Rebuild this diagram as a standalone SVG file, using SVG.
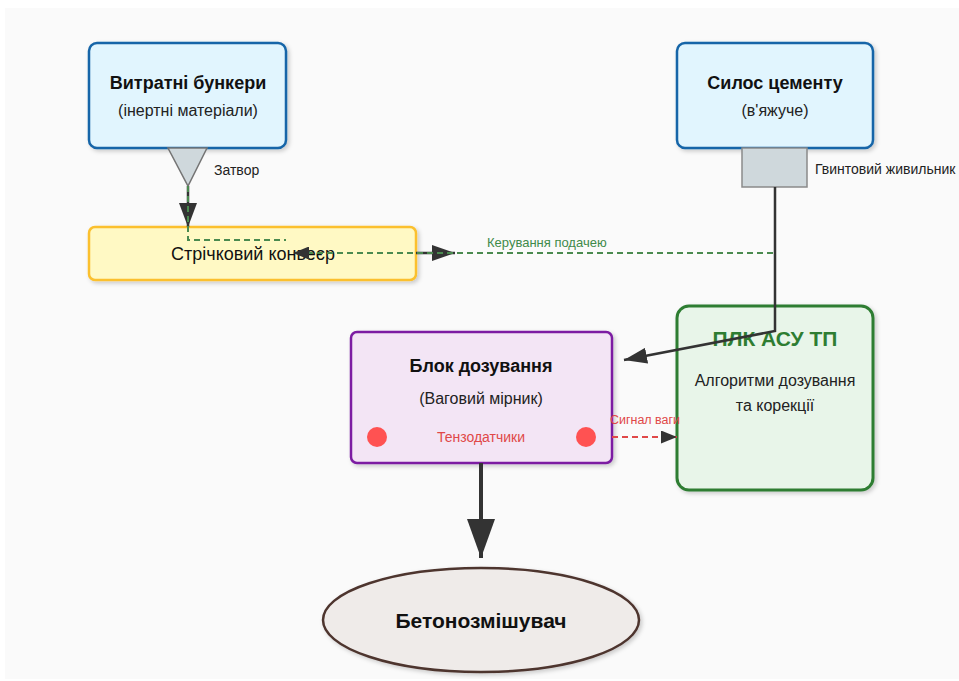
<svg xmlns="http://www.w3.org/2000/svg" width="959" height="681" viewBox="0 0 959 681">
<defs>
<style>
text{font-family:"Liberation Sans",Arial,sans-serif;fill:#111}
.t{font-size:18px;font-weight:bold;text-anchor:middle}
.s{font-size:16px;text-anchor:middle;fill:#222}
.lab{font-size:14px;fill:#222}
.box{stroke-width:2.5}
.dash{fill:none;stroke:#4a8a4f;stroke-width:2;stroke-dasharray:6,4}
.solid{fill:none;stroke:#333;stroke-width:2.5}
</style>
<filter id="sh" x="-10%" y="-10%" width="130%" height="130%">
<feDropShadow dx="2" dy="2" stdDeviation="2" flood-color="#000" flood-opacity="0.2"/>
</filter>
<marker id="ahG" viewBox="0 0 10 10" refX="10" refY="5" markerWidth="24" markerHeight="18" markerUnits="userSpaceOnUse" orient="auto" preserveAspectRatio="none">
<path d="M0,0 L10,5 L0,10 Z" fill="#333"/>
</marker>
<marker id="ahL" viewBox="0 0 10 10" refX="10" refY="5" markerWidth="23" markerHeight="16" markerUnits="userSpaceOnUse" orient="auto" preserveAspectRatio="none">
<path d="M0,0 L10,5 L0,10 Z" fill="#333"/>
</marker>
<marker id="ahM" viewBox="0 0 10 10" refX="10" refY="5" markerWidth="39" markerHeight="28" markerUnits="userSpaceOnUse" orient="auto" preserveAspectRatio="none">
<path d="M0,0 L10,5 L0,10 Z" fill="#333"/>
</marker>
<marker id="ahS" viewBox="0 0 10 10" refX="10" refY="5" markerWidth="16" markerHeight="13" markerUnits="userSpaceOnUse" orient="auto" preserveAspectRatio="none">
<path d="M0,0 L10,5 L0,10 Z" fill="#333"/>
</marker>
</defs>
<rect x="0" y="0" width="959" height="681" fill="#fff"/>
<rect x="5" y="8" width="954" height="671" fill="#fafafa"/>

<g id="bunkers">
<rect x="89" y="43" width="197" height="105" rx="8" fill="#e1f5fe" stroke="#1565a8" class="box" filter="url(#sh)"/>
<text x="188" y="89" class="t">Витратні бункери</text>
<text x="188" y="116" class="s">(інертні матеріали)</text>
</g>
<g id="gate">
<polygon points="168,148 207,148 188,186" fill="#cfd8dc" stroke="#757575" stroke-width="1.5"/>
<text x="214" y="175" class="lab">Затвор</text>
</g>
<g id="silo">
<rect x="677" y="43" width="196" height="105" rx="8" fill="#e1f5fe" stroke="#1565a8" class="box" filter="url(#sh)"/>
<text x="775" y="89" class="t">Силос цементу</text>
<text x="775" y="116" class="s">(в'яжуче)</text>
</g>
<g id="feeder">
<rect x="742" y="148" width="65" height="39" fill="#cfd8dc" stroke="#8a8a8a" stroke-width="1.5"/>
<text x="815" y="174" class="lab">Гвинтовий живильник</text>
</g>
<g id="conveyor">
<rect x="89" y="227" width="327" height="53" rx="6" fill="#fff9c4" stroke="#fbc02d" class="box" filter="url(#sh)"/>
<text x="253" y="260" style="font-size:18px;text-anchor:middle">Стрічковий конвеєр</text>
</g>
<g id="dosing">
<rect x="351" y="332" width="261" height="131" rx="6" fill="#f3e5f5" stroke="#7b1fa2" class="box" filter="url(#sh)"/>
<text x="481" y="372" class="t">Блок дозування</text>
<text x="481" y="404" class="s">(Ваговий мірник)</text>
<circle cx="377" cy="437" r="10" fill="#ff5252"/>
<circle cx="586" cy="437" r="10" fill="#ff5252"/>
<text x="481" y="442" style="font-size:14px;text-anchor:middle;fill:#e04848">Тензодатчики</text>
</g>
<g id="plc">
<rect x="677" y="306" width="196" height="184" rx="12" fill="#e8f5e9" stroke="#2e7d32" stroke-width="3" filter="url(#sh)"/>
<text x="775" y="346" style="font-size:21px;font-weight:bold;text-anchor:middle;fill:#2e7d32">ПЛК АСУ ТП</text>
<text x="775" y="386" class="s">Алгоритми дозування</text>
<text x="775" y="411" class="s">та корекції</text>
</g>
<g id="mixer">
<ellipse cx="481" cy="620" rx="158" ry="52" fill="#efebe9" stroke="#4e342e" stroke-width="2.5" filter="url(#sh)"/>
<text x="481" y="628" style="font-size:21px;font-weight:bold;text-anchor:middle">Бетонозмішувач</text>
</g>

<g id="connectors">
<line x1="188" y1="186" x2="188" y2="227" class="solid" marker-end="url(#ahG)"/>
<path d="M188,186 L188,240 L286,240" class="dash"/>
<line x1="416" y1="253" x2="455" y2="253" class="solid" marker-end="url(#ahL)"/>
<path d="M775,331 L775,253 L293,253" class="dash" marker-end="url(#ahS)"/>
<text x="487" y="247" style="font-size:13px;fill:#3f8a4a">Керування подачею</text>
<path d="M775,187 L775,331 L624,360" class="solid" marker-end="url(#ahL)"/>
<line x1="612" y1="437" x2="677" y2="437" fill="none" stroke="#e04848" stroke-width="2" stroke-dasharray="6,4" marker-end="url(#ahS)"/>
<text x="645" y="424" style="font-size:12.5px;text-anchor:middle;fill:#e04848">Сигнал ваги</text>
<line x1="481" y1="463" x2="481" y2="558" stroke="#333" stroke-width="4" marker-end="url(#ahM)"/>
</g>
</svg>
